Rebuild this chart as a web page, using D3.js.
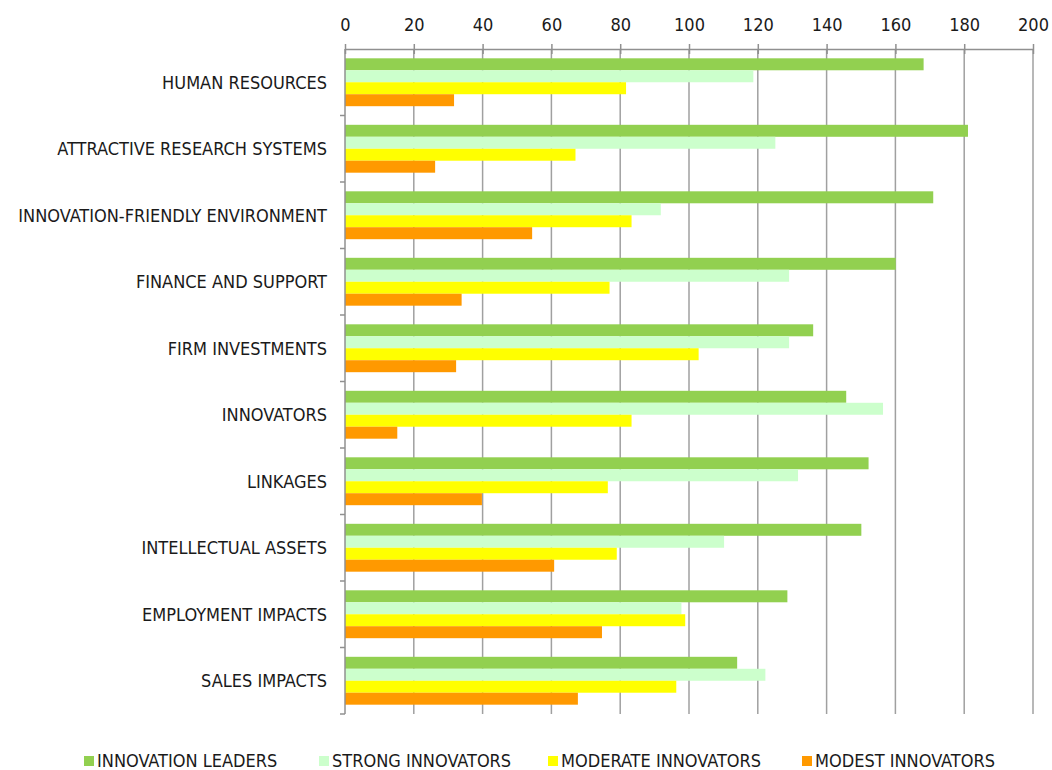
<!DOCTYPE html>
<html>
<head>
<meta charset="utf-8">
<script src="https://cdn.jsdelivr.net/npm/d3@7"></script>
<style>
  body { margin: 0; background: #fff; }
  text { font-family: "DejaVu Sans Condensed", "DejaVu Sans", sans-serif; fill: #1a1a1a; }
</style>
</head>
<body>
<div class="chart"></div>
<script>
// categories, top to bottom
var categories = ["HUMAN RESOURCES", "ATTRACTIVE RESEARCH SYSTEMS", "INNOVATION-FRIENDLY ENVIRONMENT",
  "FINANCE AND SUPPORT", "FIRM INVESTMENTS", "INNOVATORS", "LINKAGES", "INTELLECTUAL ASSETS",
  "EMPLOYMENT IMPACTS", "SALES IMPACTS"];

var seriesNames = ["INNOVATION LEADERS", "STRONG INNOVATORS", "MODERATE INNOVATORS", "MODEST INNOVATORS"];
var seriesColors = ["#92D050", "#CCFFCC", "#FFFF00", "#FF9900"];

var leaders   = [168.2, 181.1, 171.0, 160.1, 136.1, 145.7, 152.2, 150.1, 128.6, 114.0];
var strong    = [118.7, 125.1, 91.8, 129.1, 129.1, 156.4, 131.7, 110.2, 97.8, 122.2];
var moderate  = [81.7, 67.0, 83.3, 76.9, 102.8, 83.3, 76.4, 79.0, 98.9, 96.3];
var modest    = [31.7, 26.2, 54.4, 33.9, 32.3, 15.2, 39.8, 60.8, 74.7, 67.7];

var xTicks = [0, 20, 40, 60, 80, 100, 120, 140, 160, 180, 200];

var width = 1052, height = 770;
var plotLeft = 345, plotRight = 1033, plotTop = 49, plotBottom = 714;
var fontStack = "'DejaVu Sans Condensed', 'DejaVu Sans', sans-serif";

var svg = d3.select(".chart").append("svg")
  .attr("width", width)
  .attr("height", height);

var x = d3.scaleLinear().domain([0, 200]).range([plotLeft, plotRight]);

var y0 = d3.scaleBand().domain(categories).range([plotTop, plotBottom])
  .paddingInner(0.28).paddingOuter(0.14);

var y1 = d3.scaleBand().domain(seriesNames).range([0, y0.bandwidth()]);

var allValues = [leaders, strong, moderate, modest];

// gridlines
svg.append("g")
  .selectAll("line")
  .data(xTicks.slice(1))
  .enter().append("line")
    .attr("x1", d => x(d)).attr("x2", d => x(d))
    .attr("y1", plotTop).attr("y2", plotBottom)
    .attr("stroke", "#a0a0a0")
    .attr("stroke-width", 1.5);

// bars
var groups = svg.append("g")
  .selectAll("g")
  .data(categories)
  .enter().append("g")
    .attr("transform", d => "translate(0," + y0(d) + ")");

groups.selectAll("rect")
  .data(function(c, i) {
    return seriesNames.map(function(s, j) {
      return { series: s, value: allValues[j][i], color: seriesColors[j] };
    });
  })
  .enter().append("rect")
    .attr("x", x(0))
    .attr("y", d => y1(d.series))
    .attr("height", y1.bandwidth())
    .attr("width", d => x(d.value) - x(0))
    .attr("fill", d => d.color);

// top axis
var xAxis = d3.axisTop(x).tickValues(xTicks).tickSizeInner(5).tickSizeOuter(0).tickPadding(13);
var gx = svg.append("g")
  .attr("transform", "translate(0," + plotTop + ")")
  .call(xAxis);
gx.select(".domain").attr("stroke", "#909090").attr("stroke-width", 1.5);
gx.selectAll(".tick line").attr("stroke", "#909090").attr("stroke-width", 1.5).attr("y2", -5).attr("y1", 5);
gx.selectAll(".tick text").attr("font-size", 18).attr("fill", "#1a1a1a")
  .style("font-family", fontStack);

// left axis line with ticks at band boundaries
svg.append("line")
  .attr("x1", plotLeft).attr("x2", plotLeft)
  .attr("y1", plotTop).attr("y2", plotBottom)
  .attr("stroke", "#909090").attr("stroke-width", 1.5);

var boundaries = categories.map(c => y0(c) - y0.step() * 0.14).concat([plotBottom]);
svg.append("g")
  .selectAll("line")
  .data(boundaries.slice(1))
  .enter().append("line")
    .attr("x1", plotLeft - 5).attr("x2", plotLeft)
    .attr("y1", d => d).attr("y2", d => d)
    .attr("stroke", "#909090").attr("stroke-width", 1.5);

// category labels
svg.append("g")
  .selectAll("text")
  .data(categories)
  .enter().append("text")
    .attr("x", 327)
    .attr("y", d => y0(d) + y0.bandwidth() / 2)
    .attr("dy", "0.35em")
    .attr("text-anchor", "end")
    .attr("font-size", 18)
    .text(d => d);

// legend
var legendX = [84, 319, 548, 802];
var legend = svg.append("g")
  .selectAll("g")
  .data(seriesNames)
  .enter().append("g")
    .attr("transform", (d, i) => "translate(" + legendX[i] + ",761)");

legend.append("rect")
  .attr("x", 0).attr("y", -5)
  .attr("width", 10).attr("height", 10)
  .attr("fill", (d, i) => seriesColors[i]);

legend.append("text")
  .attr("x", 13)
  .attr("dy", "0.35em")
  .attr("font-size", 18)
  .text(d => d);
</script>
</body>
</html>
